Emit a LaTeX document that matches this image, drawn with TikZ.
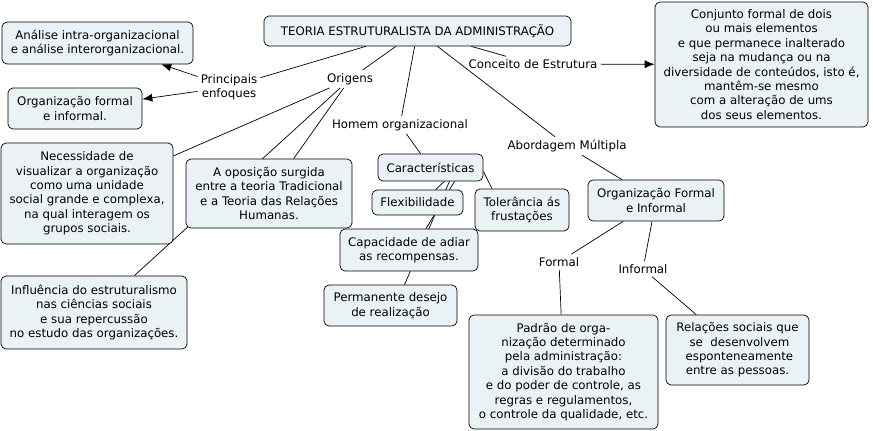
\documentclass[tikz,border=0pt]{standalone}
\usepackage{fontspec}
\setmainfont{DejaVu Sans}
\usepackage{tikz}
\usetikzlibrary{arrows.meta,backgrounds}
\definecolor{conceptfill}{RGB}{235,242,245}

\begin{document}
\begin{tikzpicture}[x=1pt, y=-1pt,
    concept/.style={draw, fill=conceptfill, rounded corners=5pt, align=center,
      inner sep=0pt, line width=0.7pt, font=\fontsize{11.8}{14.4}\selectfont},
    phrase/.style={align=center, inner sep=3pt, font=\fontsize{11.8}{14.4}\selectfont},
    link/.style={line width=0.7pt},
    >={Latex[length=10pt,width=8pt]}]
    \useasboundingbox (0, 0) rectangle (873, 431);

    \node[concept, minimum width=307pt, minimum height=30pt] (teoria) at (417.5, 31) {TEORIA ESTRUTURALISTA DA ADMINISTRAÇÃO};
    \node[concept, minimum width=191pt, minimum height=42pt] (analise) at (97.5, 43) {Análise intra-organizacional\\e análise interorganizacional.};
    \node[concept, minimum width=134pt, minimum height=41pt] (orgfi) at (75, 108.5) {Organização formal\\e informal.};
    \node[concept, minimum width=213pt, minimum height=125pt] (conjunto) at (761.5, 64.5) {Conjunto formal de dois\\ou mais elementos\\e que permanece inalterado\\seja na mudança ou na\\diversidade de conteúdos, isto é,\\mantêm-se mesmo\\com a alteração de ums\\dos seus elementos.};
    \node[concept, minimum width=172pt, minimum height=101pt] (necessidade) at (87, 193.5) {Necessidade de\\visualizar a organização\\como uma unidade\\social grande e complexa,\\na qual interagem os\\grupos sociais.};
    \node[concept, minimum width=166pt, minimum height=69pt] (oposicao) at (269, 193.5) {A oposição surgida\\entre a teoria Tradicional\\e a Teoria das Relações\\Humanas.};
    \node[concept, minimum width=186pt, minimum height=73pt] (influencia) at (94, 312.5) {Influência do estruturalismo\\nas ciências sociais\\e sua repercussão\\no estudo das organizações.};
    \node[concept, minimum width=105pt, minimum height=27pt] (caract) at (430.5, 167.5) {Características};
    \node[concept, minimum width=91pt, minimum height=25pt] (flex) at (417.5, 202.5) {Flexibilidade};
    \node[concept, minimum width=94pt, minimum height=42pt] (toler) at (522, 210) {Tolerância ás\\frustações};
    \node[concept, minimum width=138pt, minimum height=42pt] (capac) at (409, 250) {Capacidade de adiar\\as recompensas.};
    \node[concept, minimum width=133pt, minimum height=41pt] (perman) at (390.5, 305.5) {Permanente desejo\\de realização};
    \node[concept, minimum width=136pt, minimum height=41pt] (orgformal) at (656, 200.5) {Organização Formal\\e Informal};
    \node[concept, minimum width=189pt, minimum height=114pt] (padrao) at (563.5, 372) {Padrão de orga-\\nização determinado\\pela administração:\\a divisão do trabalho\\e do poder de controle, as\\regras e regulamentos,\\o controle da qualidade, etc.};
    \node[concept, minimum width=143pt, minimum height=70pt] (relacoes) at (737.5, 350) {Relações sociais que\\\ se\ \ desenvolvem\\\ esponteneamente\\entre as pessoas.};

    \node[phrase] (principais) at (229, 87) {Principais\\enfoques};
    \node[phrase] (origens) at (350, 79) {Origens};
    \node[phrase] (homem) at (400, 125) {Homem organizacional};
    \node[phrase] (conceito) at (533, 64) {Conceito de Estrutura};
    \node[phrase] (abordagem) at (567, 146) {Abordagem Múltipla};
    \node[phrase] (formal) at (559, 262) {Formal};
    \node[phrase] (informal) at (643, 269) {Informal};

    \begin{scope}[on background layer]
      \draw[link] (teoria) -- (principais);
      \draw[link] (teoria) -- (origens);
      \draw[link] (teoria) -- (homem);
      \draw[link] (teoria) -- (conceito);
      \draw[link] (teoria) -- (abordagem);
      \draw[link,->] (principais) -- (analise);
      \draw[link,->] (principais) -- (orgfi);
      \draw[link,->] (conceito) -- (conjunto);
      \draw[link] (origens) -- (necessidade);
      \draw[link] (origens) -- (oposicao);
      \draw[link] (origens) -- (influencia);
      \draw[link] (homem) -- (caract);
      \draw[link] ([xshift=14pt]caract.south) -- ([xshift=18pt]flex.north);
      \draw[link] ([xshift=24pt]caract.south) -- ([xshift=17pt]capac.north);
      \draw[link] ([xshift=19pt]caract.south) -- ([xshift=14pt]perman.north);
      \draw[link] ([yshift=-4pt]caract.east) -- ([xshift=-30pt]toler.north);
      \draw[link] (abordagem) -- (orgformal);
      \draw[link] (orgformal) -- (formal);
      \draw[link] (formal) -- (padrao);
      \draw[link] (orgformal) -- (informal);
      \draw[link] (informal) -- (relacoes);
    \end{scope}
\end{tikzpicture}
\end{document}
